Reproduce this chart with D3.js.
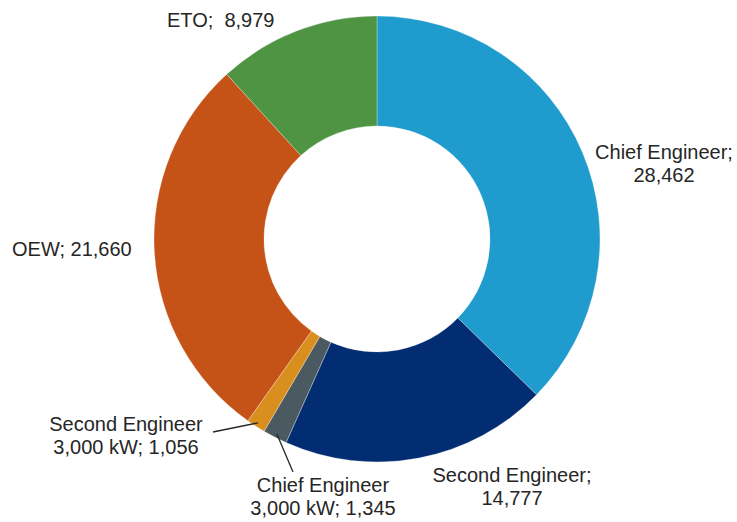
<!DOCTYPE html>
<html>
<head>
<meta charset="utf-8">
<script src="https://cdn.jsdelivr.net/npm/d3@7"></script>
<style>
  html, body { margin: 0; padding: 0; background: #fff; }
  svg { display: block; }
  text { font-family: "Liberation Sans", Arial, sans-serif; fill: #262626; }
</style>
</head>
<body>
<svg id="chart" width="737" height="522"></svg>
<script>
// Crew categories, clockwise from 12 o'clock
const categories = [
  "Chief Engineer",
  "Second Engineer",
  "Chief Engineer 3,000 kW",
  "Second Engineer 3,000 kW",
  "OEW",
  "ETO"
];
const values = [28462, 14777, 1345, 1056, 21660, 8979];
// Label text lines for each slice
const labelLines = [
  ["Chief Engineer;", "28,462"],
  ["Second Engineer;", "14,777"],
  ["Chief Engineer", "3,000 kW; 1,345"],
  ["Second Engineer", "3,000 kW; 1,056"],
  ["OEW; 21,660"],
  ["ETO;  8,979"]
];
const colors = ["#1f9bcd", "#022d72", "#4b5961", "#d98f1d", "#c55318", "#4f9443"];

// Label placement: anchor point of first baseline, text anchor, leader end point
const labelLayout = [
  { x: 664, y: 159, anchor: "middle" },
  { x: 512, y: 482, anchor: "middle" },
  { x: 323, y: 492, anchor: "middle", leader: [293, 472] },
  { x: 126, y: 431, anchor: "middle", leader: [213, 432] },
  { x: 12,  y: 256, anchor: "start" },
  { x: 167, y: 27,  anchor: "start" }
];

const cx = 377, cy = 239, outerR = 223, innerR = 113;
const lineH = 23;

const svg = d3.select("#chart");
const g = svg.append("g").attr("transform", `translate(${cx},${cy})`);

const pie = d3.pie().sort(null).value(d => d.value);
const arc = d3.arc().innerRadius(innerR).outerRadius(outerR);
const edgeArc = d3.arc().innerRadius(outerR - 4).outerRadius(outerR - 4);

const data = categories.map((c, i) => ({ name: c, value: values[i], i }));
const arcs = pie(data);

g.selectAll("path.slice")
  .data(arcs)
  .join("path")
  .attr("class", "slice")
  .attr("d", arc)
  .attr("fill", d => colors[d.data.i])
  .attr("stroke", "#ffffff")
  .attr("stroke-opacity", 0.6)
  .attr("stroke-width", 0.5);

// Leader lines for the two thin slices
arcs.forEach(d => {
  const lay = labelLayout[d.data.i];
  if (!lay.leader) return;
  const [sx, sy] = edgeArc.centroid(d);
  svg.append("line")
    .attr("x1", cx + sx).attr("y1", cy + sy)
    .attr("x2", lay.leader[0]).attr("y2", lay.leader[1])
    .attr("stroke", "#262626")
    .attr("stroke-width", 1.3);
});

// Data labels
arcs.forEach(d => {
  const lay = labelLayout[d.data.i];
  const t = svg.append("text")
    .attr("x", lay.x).attr("y", lay.y)
    .attr("text-anchor", lay.anchor)
    .attr("font-size", "20px")
    .style("white-space", "pre");
  labelLines[d.data.i].forEach((ln, k) => {
    t.append("tspan")
      .attr("x", lay.x)
      .attr("y", lay.y + k * lineH)
      .text(ln);
  });
});
</script>
</body>
</html>
